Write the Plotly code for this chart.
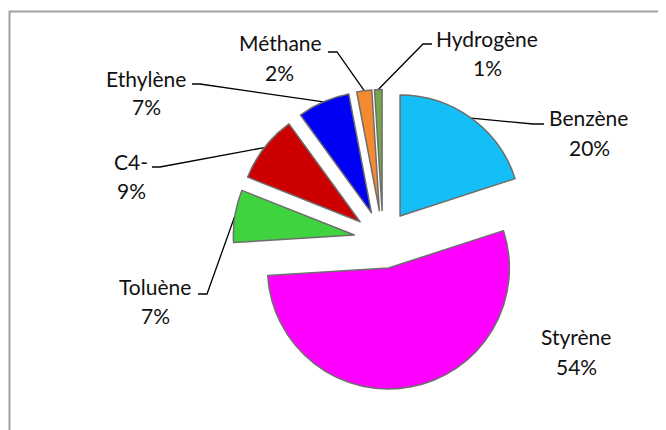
import math
import plotly.graph_objects as go

labels = ["Benzène", "Styrène", "Toluène", "C4-", "Ethylène", "Méthane", "Hydrogène"]
values = [20, 54, 7, 9, 7, 2, 1]
colors = ["#14BEF7", "#FF00FF", "#3FD33F", "#CC0000", "#0000F5", "#F58A30", "#76A646"]

W, H = 666, 430
OFF = 8                    # page body margin (px)
CX, CY = 383.0, 239.5      # pie centre (window px)
BOX = 300.0                # pie box size (px)
PULL = 0.24
R = BOX / (2 + 2 * PULL)

# label layout (window px): name centre, percent centre, leader elbow, leader end
label_layout = {
    "Benzène":   dict(nx=588, ny=117, px=589, py=147, elbow=(533, 124), end=(544, 124)),
    "Styrène":   dict(nx=576, ny=336, px=576, py=366, elbow=None, end=None),
    "Toluène":   dict(nx=155, ny=286, px=155, py=315, elbow=(207, 294), end=(198, 294)),
    "C4-":       dict(nx=131, ny=161, px=131, py=190, elbow=(160, 167), end=(152, 167)),
    "Ethylène":  dict(nx=146, ny=78,  px=146, py=106, elbow=(200, 84), end=(192, 84)),
    "Méthane":   dict(nx=280, ny=42,  px=279, py=72,  elbow=(337, 52), end=(328, 52)),
    "Hydrogène": dict(nx=487, ny=38,  px=487, py=67,  elbow=(423, 44), end=(432, 44)),
}

total = sum(values)
fig = go.Figure()

fig.add_trace(go.Pie(
    labels=labels, values=values, sort=False, direction="clockwise", rotation=0,
    pull=[PULL] * len(values),
    marker=dict(colors=colors, line=dict(color="#6E6E6E", width=1.5)),
    textinfo="none", hoverinfo="skip", showlegend=False,
    domain=dict(x=[(CX - OFF - BOX / 2) / W, (CX - OFF + BOX / 2) / W],
                y=[1 - (CY - OFF + BOX / 2) / H, 1 - (CY - OFF - BOX / 2) / H]),
))

cum = 0.0
lx, ly = [], []
annotations = []
font = dict(family="Lato, Open Sans, sans-serif", size=21, color="#111111")
for lab, v in zip(labels, values):
    mid = (cum + v / 2) / total * 2 * math.pi
    cum += v
    L = label_layout[lab]
    dx, dy = math.sin(mid), -math.cos(mid)
    sx, sy = CX + (R * PULL + R) * dx, CY + (R * PULL + R) * dy
    if L["elbow"] is not None:
        lx += [sx, L["elbow"][0], L["end"][0], None]
        ly += [sy, L["elbow"][1], L["end"][1], None]
    pct = f"{round(v / total * 100)}%"
    annotations.append(dict(x=L["nx"], y=L["ny"], text=lab, xref="x", yref="y",
                            showarrow=False, xanchor="center", yanchor="middle", font=font))
    annotations.append(dict(x=L["px"], y=L["py"], text=pct, xref="x", yref="y",
                            showarrow=False, xanchor="center", yanchor="middle", font=font))

fig.add_trace(go.Scatter(x=lx, y=ly, mode="lines", line=dict(color="black", width=1.3),
                         hoverinfo="skip", showlegend=False))

fig.update_layout(
    width=W, height=H, margin=dict(l=0, r=0, t=0, b=0),
    paper_bgcolor="white", plot_bgcolor="rgba(0,0,0,0)",
    xaxis=dict(range=[OFF, W + OFF], visible=False, fixedrange=True),
    yaxis=dict(range=[H + OFF, OFF], visible=False, fixedrange=True),
    annotations=annotations,
    shapes=[dict(type="rect", xref="x", yref="y", x0=9.5, y0=11.5, x1=W + 40, y1=H + 40,
                 line=dict(color="#A0A0A0", width=2), fillcolor="rgba(0,0,0,0)")],
)

fig.write_html("out.html")
